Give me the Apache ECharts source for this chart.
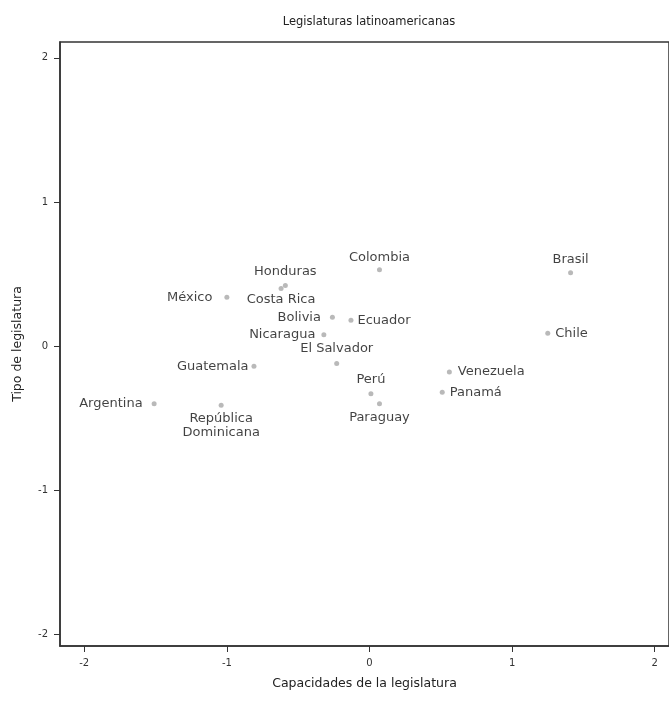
<!DOCTYPE html>
<html>
<head>
<meta charset="utf-8">
<script src="https://cdn.jsdelivr.net/npm/echarts@6/dist/echarts.min.js"></script>
<style>
html,body{margin:0;padding:0;background:#fff;}
#chart{width:669px;height:703px;}
</style>
</head>
<body>
<div id="chart"></div>
<script>
// ---- data ----
var countries = ["Argentina","República\nDominicana","México","Guatemala","Honduras","Costa Rica","Nicaragua","Bolivia","El Salvador","Ecuador","Perú","Paraguay","Colombia","Panamá","Venezuela","Chile","Brasil"];
var capacidades = [-1.51,-1.04,-1.00,-0.81,-0.59,-0.62,-0.32,-0.26,-0.23,-0.13,0.01,0.07,0.07,0.51,0.56,1.25,1.41];
var tipo = [-0.40,-0.41,0.34,-0.14,0.42,0.40,0.08,0.20,-0.12,0.18,-0.33,-0.40,0.53,-0.32,-0.18,0.09,0.51];
var xTicks = [-2,-1,0,1,2];
var yTicks = [-2,-1,0,1,2];

// ---- label placement (presentation) ----
var labelStyle = {
  "Argentina": {position:"left", distance:9},
  "República\nDominicana": {position:"bottom", distance:4},
  "México": {position:"left", distance:12},
  "Guatemala": {position:"left", distance:3},
  "Honduras": {position:"top", distance:4},
  "Costa Rica": {position:"bottom", distance:2},
  "Nicaragua": {position:"left", distance:6},
  "Bolivia": {position:"left", distance:9},
  "El Salvador": {position:"top", distance:5, offset:[8,0]},
  "Ecuador": {position:"right", distance:4},
  "Perú": {position:"top", distance:5},
  "Paraguay": {position:"bottom", distance:4},
  "Colombia": {position:"top", distance:3},
  "Panamá": {position:"right", distance:5},
  "Venezuela": {position:"right", distance:6},
  "Chile": {position:"right", distance:5},
  "Brasil": {position:"top", distance:4}
};

var points = countries.map(function(c, i){
  var ls = labelStyle[c] || {position:"right", distance:4};
  var lab = {show:true, position:ls.position, distance:ls.distance};
  if (ls.offset) lab.offset = ls.offset;
  return {name:c, value:[capacidades[i], tipo[i]], label:lab};
});

var chart = echarts.init(document.getElementById('chart'));
chart.setOption({
  animation:false,
  backgroundColor:'#fff',
  title:{
    text:'Legislaturas latinoamericanas',
    left:364, top:11, textAlign:'center',
    textStyle:{fontFamily:'DejaVu Sans', fontSize:11.5, fontWeight:'normal', color:'#222'}
  },
  grid:{left:60, right:0, top:42, bottom:57, show:true, borderColor:'#333', borderWidth:1.5},
  xAxis:{
    type:'value', min:-2.17, max:2.1,
    name:'Capacidades de la legislatura', nameLocation:'middle', nameGap:31,
    nameTextStyle:{fontFamily:'DejaVu Sans', fontSize:12.5, color:'#222'},
    axisLine:{show:true, onZero:false, lineStyle:{color:'#333', width:1.5}},
    axisTick:{show:true, length:6, inside:false, customValues:xTicks, lineStyle:{color:'#333'}},
    axisLabel:{customValues:xTicks, margin:12, fontFamily:'DejaVu Sans', fontSize:10, color:'#333'},
    splitLine:{show:false}
  },
  yAxis:{
    type:'value', min:-2.08, max:2.11,
    name:'Tipo de legislatura', nameLocation:'middle', nameGap:36,
    nameTextStyle:{fontFamily:'DejaVu Sans', fontSize:12.5, color:'#222'},
    axisLine:{show:true, onZero:false, lineStyle:{color:'#333', width:1.5}},
    axisTick:{show:true, length:6, inside:false, customValues:yTicks, lineStyle:{color:'#333'}},
    axisLabel:{customValues:yTicks, margin:12, fontFamily:'DejaVu Sans', fontSize:10, color:'#333'},
    splitLine:{show:false}
  },
  series:[{
    type:'scatter',
    symbol:'circle',
    symbolSize:5,
    itemStyle:{color:'#a8a8a8'},
    label:{
      show:true,
      formatter:function(p){return p.name;},
      fontFamily:'DejaVu Sans', fontSize:13, color:'#111', lineHeight:14
    },
    labelLayout:{hideOverlap:false},
    data:points
  }]
});
</script>
</body>
</html>
